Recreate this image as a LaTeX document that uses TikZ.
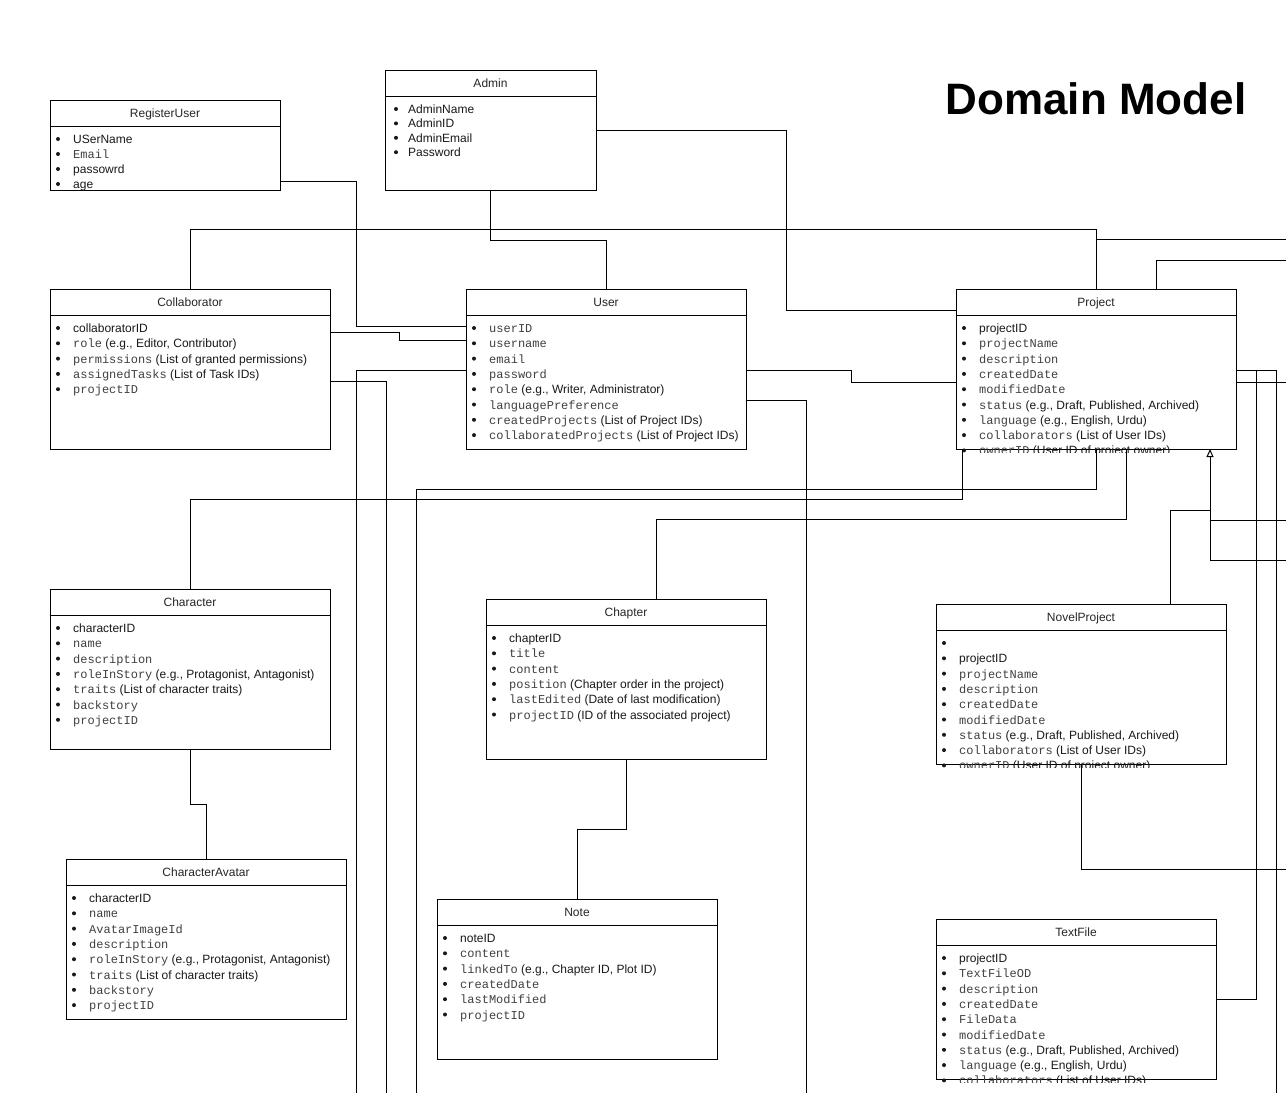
\documentclass[tikz,border=0pt]{standalone}
\usepackage{fontspec}
\setmainfont{Liberation Sans}
\setmonofont{Liberation Mono}
\usetikzlibrary{calc,arrows.meta}
\tikzset{
  classbox/.style={draw=black, fill=white, line width=1pt, anchor=north west, inner sep=0pt, outer sep=0pt},
  classtitle/.style={anchor=base, inner sep=0pt, font=\fontsize{12}{14}\selectfont, text=black!85},
  classitem/.style={anchor=base west, inner sep=0pt, font=\fontsize{12}{14}\selectfont, text=black!90},
  headline/.style={draw=black, line width=1pt},
  wire/.style={draw=black, line width=1pt},
  heading/.style={anchor=base, inner sep=0pt, font=\fontsize{44}{52}\selectfont\bfseries, text=black},
}
\newcommand\mono[1]{{\ttfamily\color{black!75}#1}}
% #1 name, #2 x, #3 y, #4 w, #5 h, #6 title, #7 step, #8 bullet offset, #9 items
\newcommand\umlclass[9]{%
  \node[classbox, minimum width=#4pt, minimum height=#5pt] (#1) at (#2,#3) {};
  \draw[headline] ($(#1.north west)+(0,26)$) -- ($(#1.north east)+(0,26)$);
  \node[classtitle] (#1-title) at ({#2+#4/2},{#3+17}) {#6};
  \begin{scope}
    \clip (#2,#3) rectangle ({#2+#4},{#3+#5+3});
    \foreach \t [count=\i] in {#9} {
      \fill[black!90] ({#2+#8},{#3+39+(\i-1)*#7}) circle (2pt);
      \node[classitem] (#1-\i) at ({#2+23},{#3+43.5+(\i-1)*#7}) {\t};
    }
  \end{scope}
}
\begin{document}
\begin{tikzpicture}[x=1pt,y=-1pt]
\fill[white] (0,0) rectangle (1286,1093);
\useasboundingbox (0,0) rectangle (1286,1093);

\node[heading] (title) at (1096,114) {Domain Model};

\umlclass{reg}{50}{100}{230}{90}{RegisterUser}{15}{8}{USerName, \mono{Email}, passowrd, age}

\umlclass{admin}{385}{70}{211}{120}{Admin}{14.4}{11}{AdminName, AdminID, AdminEmail, Password}

\umlclass{coll}{50}{289}{280}{160}{Collaborator}{15.3}{8}{collaboratorID,
  {\mono{role} (e.g., Editor, Contributor)},
  {\mono{permissions} (List of granted permissions)},
  {\mono{assignedTasks} (List of Task IDs)},
  \mono{projectID}}

\umlclass{user}{466}{289}{280}{160}{User}{15.3}{8}{\mono{userID}, \mono{username}, \mono{email}, \mono{password},
  {\mono{role} (e.g., Writer, Administrator)},
  \mono{languagePreference},
  {\mono{createdProjects} (List of Project IDs)},
  {\mono{collaboratedProjects} (List of Project IDs)}}

\umlclass{proj}{956}{289}{280}{160}{Project}{15.3}{8}{projectID, \mono{projectName}, \mono{description}, \mono{createdDate}, \mono{modifiedDate},
  {\mono{status} (e.g., Draft, Published, Archived)},
  {\mono{language} (e.g., English, Urdu)},
  {\mono{collaborators} (List of User IDs)},
  {\mono{ownerID} (User ID of project owner)}}

\umlclass{char}{50}{589}{280}{160}{Character}{15.3}{8}{characterID, \mono{name}, \mono{description},
  {\mono{roleInStory} (e.g., Protagonist, Antagonist)},
  {\mono{traits} (List of character traits)},
  \mono{backstory}, \mono{projectID}}

\umlclass{avatar}{66}{859}{280}{160}{CharacterAvatar}{15.3}{8}{characterID, \mono{name}, \mono{AvatarImageId}, \mono{description},
  {\mono{roleInStory} (e.g., Protagonist, Antagonist)},
  {\mono{traits} (List of character traits)},
  \mono{backstory}, \mono{projectID}}

\umlclass{chap}{486}{599}{280}{160}{Chapter}{15.3}{8}{chapterID, \mono{title}, \mono{content},
  {\mono{position} (Chapter order in the project)},
  {\mono{lastEdited} (Date of last modification)},
  {\mono{projectID} (ID of the associated project)}}

\umlclass{note}{437}{899}{280}{160}{Note}{15.3}{8}{noteID, \mono{content},
  {\mono{linkedTo} (e.g., Chapter ID, Plot ID)},
  \mono{createdDate}, \mono{lastModified}, \mono{projectID}}

\umlclass{novel}{936}{604}{290}{160}{NovelProject}{15.3}{8}{{}, projectID, \mono{projectName}, \mono{description}, \mono{createdDate}, \mono{modifiedDate},
  {\mono{status} (e.g., Draft, Published, Archived)},
  {\mono{collaborators} (List of User IDs)},
  {\mono{ownerID} (User ID of project owner)}}

\umlclass{text}{936}{919}{280}{160}{TextFile}{15.3}{8}{projectID, \mono{TextFileOD}, \mono{description}, \mono{createdDate}, \mono{FileData}, \mono{modifiedDate},
  {\mono{status} (e.g., Draft, Published, Archived)},
  {\mono{language} (e.g., English, Urdu)},
  {\mono{collaborators} (List of User IDs)}}

% free ends at the picture edge
\coordinate (eTop1) at (1286,239);
\coordinate (eTop2) at (1286,260);
\coordinate (eR1) at (1286,382);
\coordinate (eR2) at (1286,520);
\coordinate (eR3) at (1286,560);
\coordinate (eR4) at (1286,869);
\coordinate (eB1) at (356,1093);
\coordinate (eB2) at (386,1093);
\coordinate (eB3) at (416,1093);
\coordinate (eB4) at (806,1093);
\coordinate (eB5) at (1276,1093);

% connectors
\draw[wire] ([yshift=-81pt]reg.north east) -- (356,181) -- (356,326) -- ([yshift=-37pt]user.north west);
\draw[wire] ([yshift=-43pt]coll.north east) -- (399,332) -- (399,340) -- ([yshift=-51pt]user.north west);
\draw[wire] (coll.north) -- (190,229) -- (1096,229) -- (proj.north);
\draw[wire] (proj.north) -- (1096,239) -- (eTop1);
\draw[wire] ([xshift=60pt]proj.north) -- (1156,260) -- (eTop2);
\draw[wire] ([yshift=-60pt]admin.north east) -- (786,130) -- (786,310) -- ([yshift=-21pt]proj.north west);
\draw[wire] (admin.south) -- (490.5,240) -- (606,240) -- (user.north);
\draw[wire] ([yshift=-81pt]user.north east) -- (851,370) -- (851,382) -- ([yshift=-93pt]proj.north west);
\draw[wire] ([yshift=-111pt]user.north east) -- (806,400) -- (eB4);
\draw[wire] ([yshift=-92pt]coll.north east) -- (386,381) -- (eB2);
\draw[wire] ([yshift=-81pt]user.north west) -- (356,370) -- (eB1);
\draw[wire] (char.north) -- (190,499) -- (962,499) -- ([xshift=6pt]proj.south west);
\draw[wire] (eB3) -- (416,489) -- (1096,489) -- (proj.south);
\draw[wire] ([xshift=30pt]chap.north) -- (656,519) -- (1126,519) -- ([xshift=30pt]proj.south);
\draw[wire] (char.south) -- (190,804) -- (206,804) -- (avatar.north);
\draw[wire] (chap.south) -- (626,829) -- (577,829) -- (note.north);
\draw[wire] (eR2) -- (1210,520) -- ([xshift=-26pt,yshift=-8pt]proj.south east);
\draw[wire] (eR3) -- (1210,560) -- ([xshift=-26pt,yshift=-8pt]proj.south east);
\draw[wire,-{Triangle[length=8pt,width=7pt,fill=white]}] ([xshift=89pt]novel.north) -- (1170,510) -- (1210,510) -- ([xshift=-26pt]proj.south east);
\draw[wire] ([yshift=-81pt]proj.north east) -- (1256,370) -- (1256,999) -- ([yshift=-80pt]text.north east);
\draw[wire] ([yshift=-81pt]proj.north east) -- (1276,370) -- (eB5);
\draw[wire] ([yshift=-93pt]proj.north east) -- (eR1);
\draw[wire] (novel.south) -- (1081,869) -- (eR4);
\end{tikzpicture}
\end{document}
